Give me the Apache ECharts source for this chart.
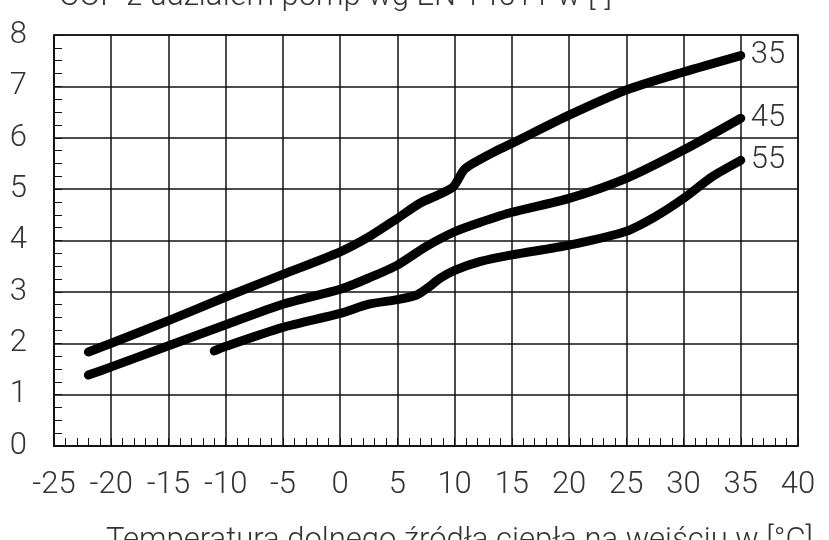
<!DOCTYPE html>
<html>
<head>
<meta charset="utf-8">
<script src="https://cdn.jsdelivr.net/npm/echarts@6/dist/echarts.min.js"></script>
<style>
  html, body { margin: 0; padding: 0; background: #fff; }
  #chart { width: 829px; height: 540px; }
</style>
</head>
<body>
<div id="chart"></div>
<script>
// COP curves (x = source temperature, y = COP)
const temps35 = [-22, -20, -15, -10, -5, 0, 2.5, 5, 7, 8.7, 9.9, 10.8, 11.6, 13.4, 15, 20, 25, 30, 35];
const cop35 = [1.83, 2.0, 2.44, 2.9, 3.34, 3.78, 4.07, 4.43, 4.73, 4.9, 5.05, 5.37, 5.5, 5.72, 5.89, 6.44, 6.93, 7.28, 7.6];

const temps45 = [-22, -20, -15, -10, -5, 0, 2.5, 5, 7.5, 10, 12.2, 15, 20, 25, 30, 35];
const cop45 = [1.38, 1.54, 1.95, 2.36, 2.76, 3.05, 3.27, 3.52, 3.88, 4.17, 4.35, 4.55, 4.82, 5.21, 5.76, 6.38];

const temps55 = [-11, -10, -5, 0, 2.5, 5, 6.7, 7.6, 8.7, 10, 12.2, 15, 20, 25, 27.5, 30, 32.5, 35];
const cop55 = [1.85, 1.94, 2.31, 2.58, 2.76, 2.85, 2.94, 3.07, 3.26, 3.42, 3.59, 3.72, 3.91, 4.18, 4.46, 4.82, 5.24, 5.56];

const seriesNames = ["35", "45", "55"];
const titleText = "COP z udziałem pomp wg EN 14511 w [-]";
const xAxisTitle = "Temperatura dolnego źródła ciepła na wejściu w [°C]";

const font = "Roboto";
const textColor = "#333";

const pairs = (xs, ys) => xs.map((x, i) => [x, ys[i]]);

const makeLine = (name, data) => ({
  name: name,
  type: "line",
  data: data,
  smooth: 0.25,
  showSymbol: false,
  silent: true,
  lineStyle: { color: "#000", width: 9, cap: "round", join: "round" },
  endLabel: {
    show: true,
    formatter: "{a}",
    distance: 10,
    fontFamily: font,
    fontWeight: 300,
    fontSize: 31,
    color: textColor
  }
});

const chart = echarts.init(document.getElementById("chart"), null, { renderer: "canvas" });
chart.setOption({
  animation: false,
  backgroundColor: "#fff",
  title: {
    text: titleText,
    left: 54,
    top: -23,
    textStyle: { fontFamily: font, fontWeight: 300, fontSize: 31, color: textColor }
  },
  graphic: [
    {
      type: "text",
      left: 106,
      top: 526,
      style: { text: xAxisTitle, fontFamily: font, fontWeight: 300, fontSize: 31, fill: textColor }
    }
  ],
  grid: {
    left: 54, right: 31, top: 35, bottom: 94,
    show: true, borderColor: "#111", borderWidth: 1.5
  },
  xAxis: {
    type: "value",
    min: -25, max: 40, interval: 5,
    axisLine: { show: true, onZero: false, lineStyle: { color: "#111", width: 1.5 } },
    axisTick: { show: true, inside: true, length: 8, lineStyle: { color: "#111" } },
    minorTick: { show: true, splitNumber: 5, length: 8, lineStyle: { color: "#111", width: 1 } },
    splitLine: { show: true, lineStyle: { color: "#111", width: 1.5 } },
    axisLabel: { margin: 24, fontFamily: font, fontWeight: 300, fontSize: 31, color: textColor }
  },
  yAxis: {
    type: "value",
    min: 0, max: 8, interval: 1,
    axisLine: { show: true, onZero: false, lineStyle: { color: "#111", width: 1.5 } },
    axisTick: { show: true, inside: true, length: 8, lineStyle: { color: "#111" } },
    minorTick: { show: true, splitNumber: 4, length: 8, lineStyle: { color: "#111", width: 1 } },
    splitLine: { show: true, lineStyle: { color: "#111", width: 1.5 } },
    axisLabel: { margin: 27, fontFamily: font, fontWeight: 300, fontSize: 31, color: textColor }
  },
  series: [
    makeLine(seriesNames[0], pairs(temps35, cop35)),
    makeLine(seriesNames[1], pairs(temps45, cop45)),
    makeLine(seriesNames[2], pairs(temps55, cop55))
  ]
});
</script>
</body>
</html>
